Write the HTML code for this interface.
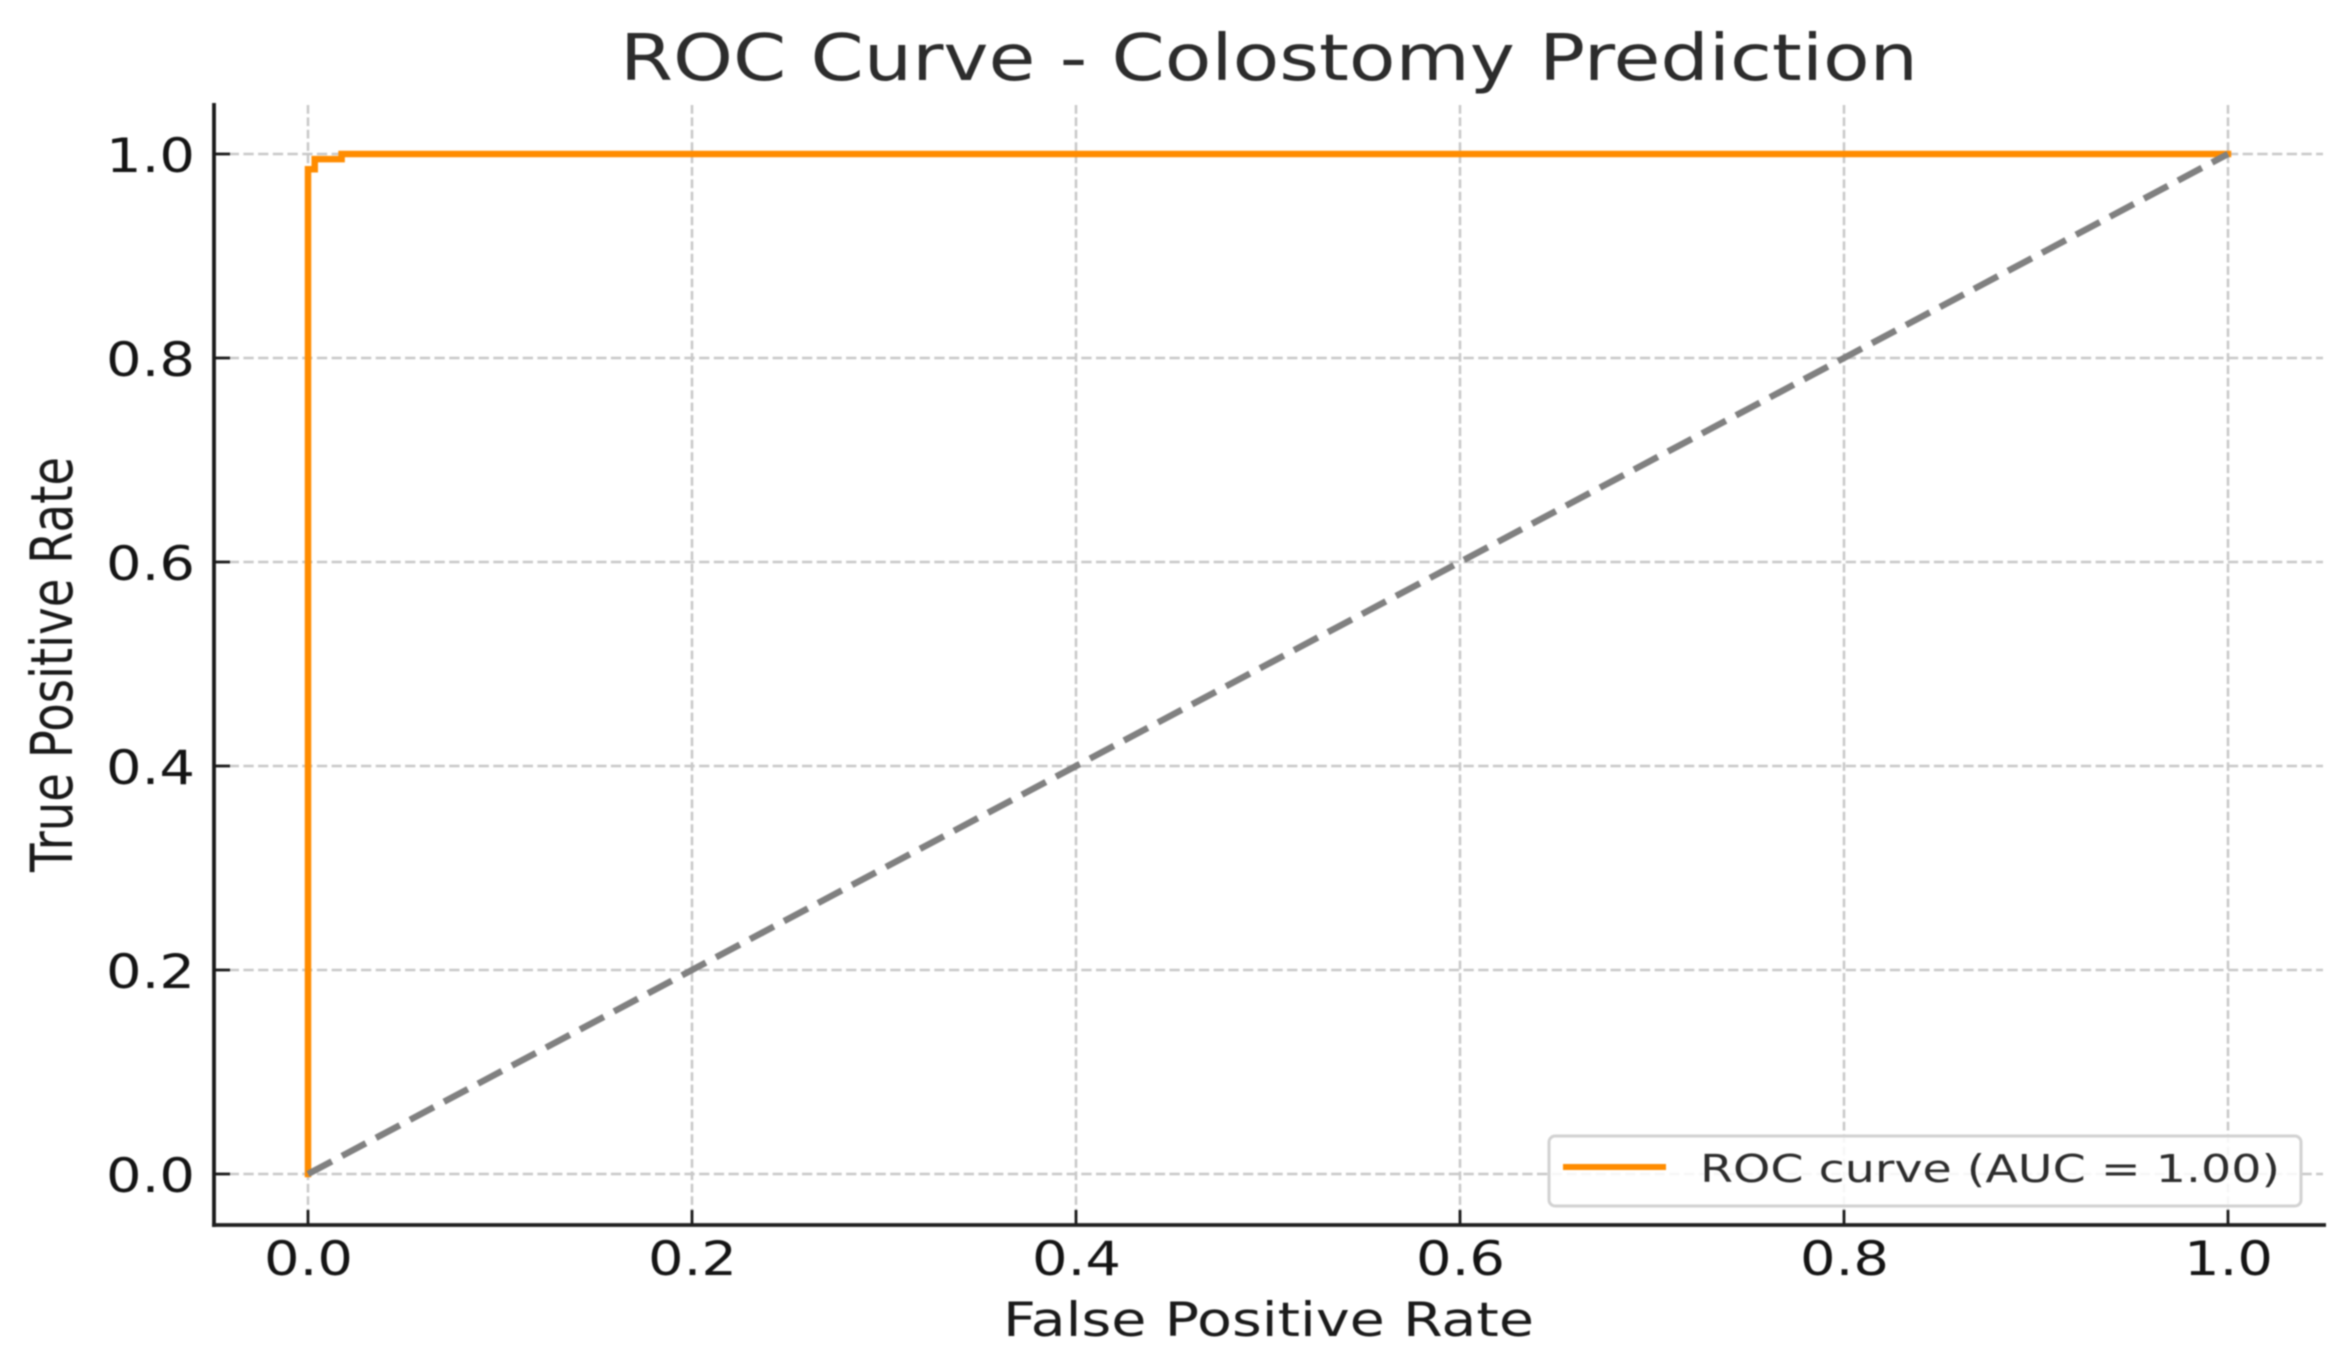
<!DOCTYPE html>
<html lang="en">
<head>
<meta charset="utf-8">
<title>ROC Curve - Colostomy Prediction</title>
<style>
  html, body { margin: 0; padding: 0; background: #fff; }
  #chart { display: block; width: 2342px; height: 1367px; filter: blur(0.8px); }
  text { font-family: "DejaVu Sans", "Liberation Sans", sans-serif; }
</style>
</head>
<body>
<svg id="chart" xmlns="http://www.w3.org/2000/svg" width="2342" height="1367" viewBox="0 0 2342 1367">
  <rect x="0" y="0" width="2342" height="1367" fill="#ffffff"/>
  <g id="grid"></g>
  <g id="series"></g>
  <g id="axes"></g>
  <text x="620" y="80" font-size="64" fill="#2c2c2c" textLength="1298" lengthAdjust="spacingAndGlyphs">ROC Curve - Colostomy Prediction</text>
  <text x="1003" y="1336" font-size="47" fill="#1a1a1a" textLength="531" lengthAdjust="spacingAndGlyphs">False Positive Rate</text>
  <text transform="translate(72 872) rotate(-90)" x="0" y="0" font-size="58" fill="#1a1a1a" textLength="415" lengthAdjust="spacingAndGlyphs">True Positive Rate</text>
  <g>
    <rect x="1549" y="1136" width="752" height="70" rx="6" ry="6" fill="#ffffff" fill-opacity="0.85" stroke="#d2d2d2" stroke-width="3"/>
    <line x1="1563" y1="1167" x2="1666" y2="1167" stroke="#ff8c00" stroke-width="6"/>
    <text x="1700" y="1182" font-size="38" fill="#2c2c2c" textLength="580" lengthAdjust="spacingAndGlyphs">ROC curve (AUC = 1.00)</text>
  </g>
</svg>
<script>
const xTicks = [0, 0.2, 0.4, 0.6, 0.8, 1.0];
const yTicks = [0, 0.2, 0.4, 0.6, 0.8, 1.0];
const xTickLabels = ["0.0", "0.2", "0.4", "0.6", "0.8", "1.0"];
const yTickLabels = ["0.0", "0.2", "0.4", "0.6", "0.8", "1.0"];
const rocFpr = [0, 0, 0.0035, 0.0035, 0.0175, 0.0175, 1];
const rocTpr = [0, 0.985, 0.985, 0.995, 0.995, 1, 1];
const chanceX = [0, 1];
const chanceY = [0, 1];

const SVG_NS = "http://www.w3.org/2000/svg";
const plotLeft = 214, plotRight = 2326, plotTop = 103, plotBottom = 1225;
function xScale(v) { return 308 + 1920 * v; }
function yScale(v) { return 1174 - 1020 * v; }
function makeEl(tag, parent, attrs) {
  const node = document.createElementNS(SVG_NS, tag);
  for (const key in attrs) node.setAttribute(key, attrs[key]);
  parent.appendChild(node);
  return node;
}
function pathFrom(xs, ys) {
  return xs.map(function (v, i) {
    return (i ? "L" : "M") + xScale(v).toFixed(2) + " " + yScale(ys[i]).toFixed(2);
  }).join(" ");
}

const gridGroup = document.getElementById("grid");
const seriesGroup = document.getElementById("series");
const axesGroup = document.getElementById("axes");

xTicks.forEach(function (t, i) {
  const gridLine = makeEl("line", gridGroup, { x1: xScale(t), x2: xScale(t), y1: plotTop + 2, y2: plotBottom, stroke: "#c8c8c8", "stroke-width": 2.5, "stroke-dasharray": "8.7 3.7" });
  
  
  const tick = makeEl("line", axesGroup, { x1: xScale(t), x2: xScale(t), y1: plotBottom, y2: plotBottom - 15, stroke: "#1a1a1a", "stroke-width": 2.8 });
  
  
  const label = makeEl("text", axesGroup, { x: xScale(t) + 0.5, y: 1275, "font-size": 47, fill: "#141414", "text-anchor": "middle", textLength: 89, lengthAdjust: "spacingAndGlyphs" });
  
  
  label.textContent = xTickLabels[i];
});

yTicks.forEach(function (t, i) {
  const gridLine = makeEl("line", gridGroup, { x1: plotLeft, x2: plotRight - 3, y1: yScale(t), y2: yScale(t), stroke: "#c8c8c8", "stroke-width": 2.5, "stroke-dasharray": "10.3 4.4" });
  
  
  const tick = makeEl("line", axesGroup, { x1: plotLeft, x2: plotLeft + 16, y1: yScale(t), y2: yScale(t), stroke: "#1a1a1a", "stroke-width": 2.8 });
  
  
  const label = makeEl("text", axesGroup, { x: 106, y: yScale(t) + 18, "font-size": 47, fill: "#141414", textLength: 89, lengthAdjust: "spacingAndGlyphs" });
  
  
  label.textContent = yTickLabels[i];
});

const rocLine = makeEl("path", seriesGroup, { d: pathFrom(rocFpr, rocTpr), fill: "none", stroke: "#ff8c00", "stroke-width": 6.5, "stroke-linejoin": "miter", "stroke-linecap": "square" });



const chanceLine = makeEl("path", seriesGroup, { d: pathFrom(chanceX, chanceY), fill: "none", stroke: "#808080", "stroke-width": 6.5, "stroke-dasharray": "27 11.5" });



const leftSpine = makeEl("line", axesGroup, { x1: plotLeft, x2: plotLeft, y1: plotTop, y2: plotBottom + 2, stroke: "#1a1a1a", "stroke-width": 3.8 });



const bottomSpine = makeEl("line", axesGroup, { x1: plotLeft - 2, x2: plotRight, y1: plotBottom, y2: plotBottom, stroke: "#1f1f1f", "stroke-width": 3.8 });


</script>
</body>
</html>
